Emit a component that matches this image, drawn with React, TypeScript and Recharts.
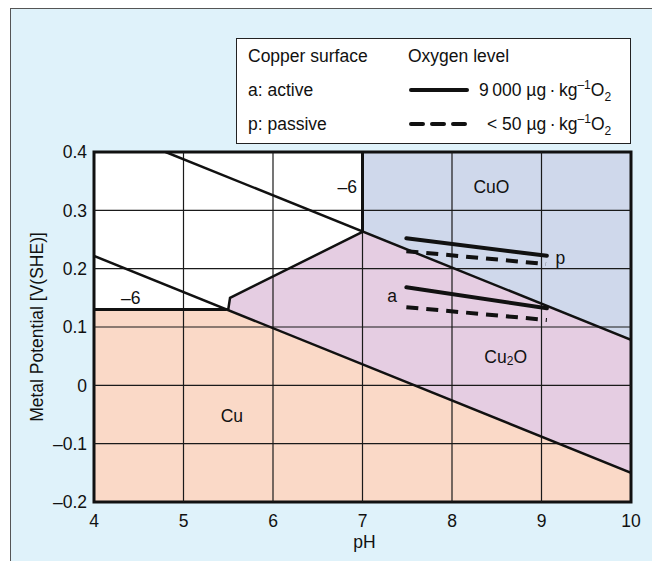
import React from 'react';
import { ComposedChart, Area, Line, XAxis, YAxis, ReferenceLine, ReferenceArea, ReferenceDot } from 'recharts';

const phTicks = [4, 5, 6, 7, 8, 9, 10];
const potentialTicks = [-0.2, -0.1, 0, 0.1, 0.2, 0.3, 0.4];
const phGrid = [5, 6, 7, 8, 9];
const potentialGrid = [-0.1, 0, 0.1, 0.2, 0.3];

// stability fields: [lower, upper] potential at each pH
const cuRegion = [
  { ph: 4, band: [-0.2, 0.13] },
  { ph: 5.47, band: [-0.2, 0.131] },
  { ph: 10, band: [-0.2, -0.15] },
];
const cu2oRegion = [
  { ph: 5.48, band: [0.13, 0.13] },
  { ph: 5.5, band: [0.129, 0.13] },
  { ph: 5.52, band: [0.128, 0.15] },
  { ph: 7, band: [0.036, 0.263] },
  { ph: 10, band: [-0.15, 0.078] },
];
const cuoRegion = [
  { ph: 7, band: [0.263, 0.4] },
  { ph: 10, band: [0.078, 0.4] },
];

// boundary lines
const cuBoundary = [{ ph: 4, e: 0.222 }, { ph: 10, e: -0.15 }];
const oxideBoundary = [{ ph: 4.8, e: 0.4 }, { ph: 10, e: 0.078 }];
const cu2oEdge = [{ ph: 5.48, e: 0.13 }, { ph: 5.5, e: 0.13 }, { ph: 5.52, e: 0.15 }, { ph: 7, e: 0.263 }];
const cuLevel = [{ ph: 4, e: 0.13 }, { ph: 5.48, e: 0.13 }];
const cuoLevel = [{ ph: 7, e: 0.263 }, { ph: 7, e: 0.4 }];

// measured potentials
const pHighO2 = [{ ph: 7.49, e: 0.252 }, { ph: 9.06, e: 0.222 }];
const pLowO2 = [{ ph: 7.49, e: 0.23 }, { ph: 9.05, e: 0.208 }];
const aHighO2 = [{ ph: 7.49, e: 0.168 }, { ph: 9.06, e: 0.132 }];
const aLowO2 = [{ ph: 7.49, e: 0.134 }, { ph: 9.06, e: 0.112 }];

const fieldLabels = [
  { ph: 4.41, e: 0.15, text: '–6' },
  { ph: 6.83, e: 0.34, text: '–6' },
  { ph: 8.44, e: 0.34, text: 'CuO' },
  { ph: 8.6, e: 0.048, text: 'Cu2O' },
  { ph: 5.54, e: -0.052, text: 'Cu' },
  { ph: 7.33, e: 0.153, text: 'a' },
  { ph: 9.21, e: 0.218, text: 'p' },
];

const FONT = '"Liberation Sans", Arial, sans-serif';
const INK = '#111';
const FS = 17.5;

const fmtPotential = (v: number) => (v === 0 ? '0' : v < 0 ? '–' + Math.abs(v).toFixed(1) : v.toFixed(1));

const fieldLabel = (text: string) => (props: any) => {
  const vb = props.viewBox || {};
  const x = vb.x + (vb.width || 0) / 2;
  const y = vb.y + (vb.height || 0) / 2;
  if (text === 'Cu2O') {
    return (
      <text x={x} y={y} textAnchor="middle" dominantBaseline="central" fontSize={FS} fontFamily={FONT} fill={INK}>
        <tspan>Cu</tspan>
        <tspan fontSize={12} dy={4}>2</tspan>
        <tspan dy={-4}>O</tspan>
      </text>
    );
  }
  return (
    <text x={x} y={y} textAnchor="middle" dominantBaseline="central" fontSize={FS} fontFamily={FONT} fill={INK}>
      {text}
    </text>
  );
};

const yLabel = (props: any) => {
  const vb = props.viewBox;
  const x = vb.x + 3;
  const y = vb.y + vb.height / 2;
  return (
    <text x={x} y={y} transform={`rotate(-90, ${x}, ${y})`} textAnchor="middle" dominantBaseline="central" fontSize={FS} fontFamily={FONT} fill={INK}>
      Metal Potential [V(SHE)]
    </text>
  );
};

const xLabel = (props: any) => {
  const vb = props.viewBox;
  return (
    <text x={vb.x + vb.width / 2 + 2} y={vb.y + 40} textAnchor="middle" dominantBaseline="central" fontSize={FS} fontFamily={FONT} fill={INK}>
      pH
    </text>
  );
};

const tickStyle = { fontSize: FS, fontFamily: FONT, fill: INK };

const LegendBox = () => (
  <div
    style={{
      position: 'absolute', left: 236, top: 38, width: 393, height: 104,
      border: '1.5px solid #222', background: '#fff', fontFamily: FONT, fontSize: FS, color: INK, lineHeight: '20px',
    }}
  >
    <div style={{ position: 'absolute', left: 11, top: 7 }}>Copper surface</div>
    <div style={{ position: 'absolute', left: 171, top: 7 }}>Oxygen level</div>
    <div style={{ position: 'absolute', left: 11, top: 41 }}>a: active</div>
    <div style={{ position: 'absolute', left: 11, top: 75 }}>p: passive</div>
    <svg style={{ position: 'absolute', left: 172, top: 43 }} width={60} height={16}>
      <line x1={2} x2={58} y1={8} y2={8} stroke={INK} strokeWidth={4} strokeLinecap="round" />
    </svg>
    <svg style={{ position: 'absolute', left: 172, top: 77 }} width={60} height={16}>
      <line x1={2} x2={58} y1={8} y2={8} stroke={INK} strokeWidth={4} strokeDasharray="12 9" strokeLinecap="round" />
    </svg>
    <div style={{ position: 'absolute', left: 242, top: 41 }}>
      9&#8201;000 µg&#8201;·&#8201;kg<sup style={{ fontSize: 12, lineHeight: 0 }}>–1</sup>O<sub style={{ fontSize: 12, lineHeight: 0 }}>2</sub>
    </div>
    <div style={{ position: 'absolute', left: 250, top: 75 }}>
      &lt; 50 µg&#8201;·&#8201;kg<sup style={{ fontSize: 12, lineHeight: 0 }}>–1</sup>O<sub style={{ fontSize: 12, lineHeight: 0 }}>2</sub>
    </div>
  </div>
);

export default function App() {
  return (
    <div style={{ position: 'fixed', left: 0, top: 0, width: 652, height: 561, background: '#fff', overflow: 'hidden' }}>
      <div
        style={{
          position: 'absolute', left: 10, top: 8, right: -2, bottom: -2,
          background: '#dff2fa', borderTop: '1.5px solid #555', borderLeft: '1.5px solid #555',
        }}
      />
      <div style={{ position: 'absolute', left: 0, top: 0 }}>
        <ComposedChart width={652} height={561} margin={{ top: 152, right: 21, bottom: 29, left: 34 }}>
          <XAxis
            dataKey="ph" type="number" domain={[4, 10]} ticks={phTicks} allowDataOverflow
            axisLine={false} tickLine={false} tickMargin={7} tick={tickStyle} height={30}
            label={xLabel}
          />
          <YAxis
            type="number" domain={[-0.2, 0.4]} ticks={potentialTicks} allowDataOverflow
            axisLine={false} tickLine={false} tickMargin={1} tick={tickStyle} width={60}
            tickFormatter={fmtPotential} label={yLabel}
          />
          <ReferenceArea x1={4} x2={10} y1={-0.2} y2={0.4} fill="#fff" fillOpacity={1} stroke="none" />
          <Area data={cuRegion} dataKey="band" type="linear" fill="#fad9c7" fillOpacity={1} stroke="none" isAnimationActive={false} dot={false} activeDot={false} />
          <Area data={cu2oRegion} dataKey="band" type="linear" fill="#e5cde2" fillOpacity={1} stroke="none" isAnimationActive={false} dot={false} activeDot={false} />
          <Area data={cuoRegion} dataKey="band" type="linear" fill="#cfd8eb" fillOpacity={1} stroke="none" isAnimationActive={false} dot={false} activeDot={false} />
          {phGrid.map((v) => (
            <ReferenceLine key={'x' + v} x={v} stroke="#1a1a1a" strokeWidth={1.2} />
          ))}
          {potentialGrid.map((v) => (
            <ReferenceLine key={'y' + v} y={v} stroke="#1a1a1a" strokeWidth={1.2} />
          ))}
          <Line data={cuBoundary} dataKey="e" type="linear" stroke={INK} strokeWidth={2.5} dot={false} activeDot={false} isAnimationActive={false} />
          <Line data={oxideBoundary} dataKey="e" type="linear" stroke={INK} strokeWidth={2.5} dot={false} activeDot={false} isAnimationActive={false} />
          <Line data={cu2oEdge} dataKey="e" type="linear" stroke={INK} strokeWidth={2.5} dot={false} activeDot={false} isAnimationActive={false} />
          <Line data={cuLevel} dataKey="e" type="linear" stroke={INK} strokeWidth={3} dot={false} activeDot={false} isAnimationActive={false} />
          <Line data={cuoLevel} dataKey="e" type="linear" stroke={INK} strokeWidth={3} dot={false} activeDot={false} isAnimationActive={false} />
          <Line data={pHighO2} dataKey="e" type="linear" stroke={INK} strokeWidth={4} strokeLinecap="round" dot={false} activeDot={false} isAnimationActive={false} />
          <Line data={pLowO2} dataKey="e" type="linear" stroke={INK} strokeWidth={4} strokeDasharray="12 8" dot={false} activeDot={false} isAnimationActive={false} />
          <Line data={aHighO2} dataKey="e" type="linear" stroke={INK} strokeWidth={4} strokeLinecap="round" dot={false} activeDot={false} isAnimationActive={false} />
          <Line data={aLowO2} dataKey="e" type="linear" stroke={INK} strokeWidth={4} strokeDasharray="12 8" dot={false} activeDot={false} isAnimationActive={false} />
          {fieldLabels.map((l, i) => (
            <ReferenceDot key={'l' + i} x={l.ph} y={l.e} r={0} fill="none" stroke="none" label={fieldLabel(l.text)} />
          ))}
          <ReferenceArea x1={4} x2={10} y1={-0.2} y2={0.4} fill="none" stroke={INK} strokeWidth={3} />
        </ComposedChart>
      </div>
      <LegendBox />
    </div>
  );
}
